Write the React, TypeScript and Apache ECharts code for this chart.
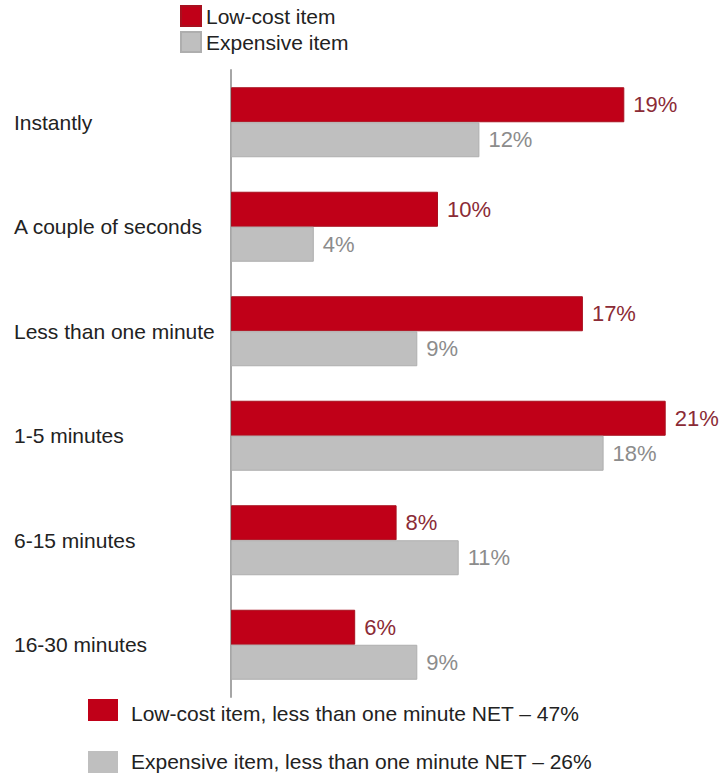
import React, { useEffect, useRef } from "react";
import * as echarts from "echarts";

const categories = [
  "Instantly",
  "A couple of seconds",
  "Less than one minute",
  "1-5 minutes",
  "6-15 minutes",
  "16-30 minutes",
];
const lowCost = [19, 10, 17, 21, 8, 6];
const expensive = [12, 4, 9, 18, 11, 9];
const seriesNames = ["Low-cost item", "Expensive item"];
const netLabels = [
  "Low-cost item, less than one minute NET \u2013 47%",
  "Expensive item, less than one minute NET \u2013 26%",
];

const RED = "#C00018";
const GRAY = "#BFBFBF";
const FONT = "Liberation Sans, Arial, sans-serif";

export default function App() {
  const ref = useRef<HTMLDivElement>(null);
  useEffect(() => {
    if (!ref.current) return;
    const chart = echarts.init(ref.current, null, { renderer: "svg" });
    chart.setOption({
      animation: false,
      textStyle: { fontFamily: FONT },
      legend: {
        data: seriesNames,
        orient: "vertical",
        left: 180,
        top: 5,
        itemWidth: 20,
        itemHeight: 20,
        itemGap: 4,
        padding: 0,
        icon: "rect",
        textStyle: { fontSize: 21, color: "#222", fontFamily: FONT },
      },
      grid: { left: 231, right: 37.6, top: 70, bottom: 76 },
      xAxis: {
        type: "value",
        min: 0,
        max: 22,
        show: false,
      },
      yAxis: {
        type: "category",
        data: categories,
        inverse: true,
        axisLine: { show: true, lineStyle: { color: "#A6A6A6", width: 2 } },
        axisTick: { show: false },
        axisLabel: {
          align: "left",
          margin: 217,
          fontSize: 21,
          color: "#222",
          fontFamily: FONT,
        },
      },
      series: [
        {
          name: seriesNames[0],
          type: "bar",
          data: lowCost,
          barGap: "0%",
          barCategoryGap: "33%",
          itemStyle: { color: RED, borderColor: "#A8101F", borderWidth: 1 },
          label: {
            show: true,
            position: "right",
            distance: 9,
            formatter: "{c}%",
            fontSize: 22,
            color: "#8B2B36",
            fontFamily: FONT,
          },
        },
        {
          name: seriesNames[1],
          type: "bar",
          data: expensive,
          itemStyle: { color: GRAY, borderColor: "#AEAEAE", borderWidth: 1 },
          label: {
            show: true,
            position: "right",
            distance: 9,
            formatter: "{c}%",
            fontSize: 22,
            color: "#8C8C8C",
            fontFamily: FONT,
          },
        },
      ],
      graphic: [
        {
          type: "rect",
          left: 88,
          top: 699,
          shape: { width: 30, height: 22 },
          style: { fill: RED },
        },
        {
          type: "text",
          left: 131,
          top: 703,
          style: { text: netLabels[0], fill: "#222", font: `21px ${FONT}` },
        },
        {
          type: "rect",
          left: 88,
          top: 751,
          shape: { width: 30, height: 22 },
          style: { fill: GRAY },
        },
        {
          type: "text",
          left: 131,
          top: 751,
          style: { text: netLabels[1], fill: "#222", font: `21px ${FONT}` },
        },
      ],
    });
    return () => chart.dispose();
  }, []);
  return <div ref={ref} style={{ width: 724, height: 773, position: "absolute", left: 0, top: 0 }} />;
}
